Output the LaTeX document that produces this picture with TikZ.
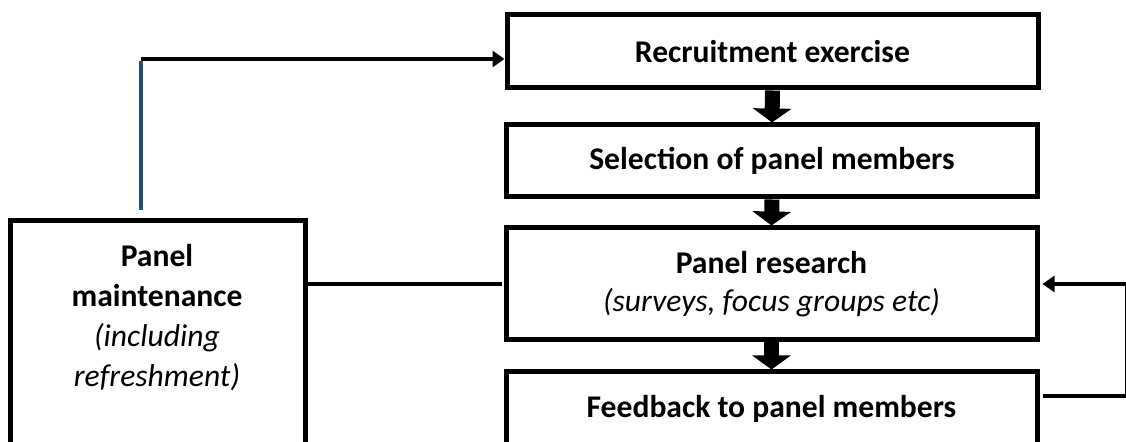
\documentclass[tikz,border=0pt]{standalone}
\usepackage{fontspec}
\setmainfont{Carlito}
\usetikzlibrary{arrows.meta}
\definecolor{lineblue}{HTML}{1F4E79}

\begin{document}
\begin{tikzpicture}[x=0.5pt,y=-0.5pt,semithick,
  >={Triangle[length=6pt,width=8pt]},
  box/.style={draw,line width=2.5pt,align=center,inner sep=0pt,
    font=\bfseries\fontsize{15.8}{19}\selectfont,minimum width=265.5pt},
  flow/.style={->,line width=2.3pt},
  blockarrow/.style={-{Triangle[length=7pt,width=19pt]},line width=7.5pt}]

\clip (0,0) rectangle (1126,442);

\node[box,minimum height=36.5pt] (recruit) at (772.5,51.5) {Recruitment exercise};
\node[box,minimum height=36pt] (select) at (772,161) {Selection of panel members};
\node[box,minimum height=56pt] (research) at (771.5,284)
  {Panel research\\{\mdseries\itshape (surveys, focus groups etc)}};
\node[box,minimum height=37pt] (feedback) at (771.5,409) {Feedback to panel members};

\node[box,minimum width=147.5pt,minimum height=124.5pt] (maint) at (157.5,345.5) {};
\node[align=center,font=\bfseries\fontsize{15.8}{20}\selectfont] (mainttext) at (157,318)
  {Panel\\maintenance\\{\mdseries\itshape (including}\\{\mdseries\itshape refreshment)}};

\coordinate (corner) at (141,59);
\coordinate (loop) at (1127,396);

\path [blockarrow]
    (recruit.south) edge (select.north)
    (select.south) edge (research.north)
    (research.south) edge (feedback.north)
;

\draw [lineblue,line width=2.2pt] ([yshift=4pt]maint.north -| corner) -- ([yshift=-1.1pt]corner);
\draw [flow] (corner) -- (corner -| recruit.west);

\draw [line width=2.3pt,shorten >=1pt] (maint.east |- research.west) -- (research.west);

\draw [flow,shorten <=1.5pt,shorten >=1.5pt]
    (feedback.east |- loop) -- (loop) |- (research.east);

\end{tikzpicture}
\end{document}
